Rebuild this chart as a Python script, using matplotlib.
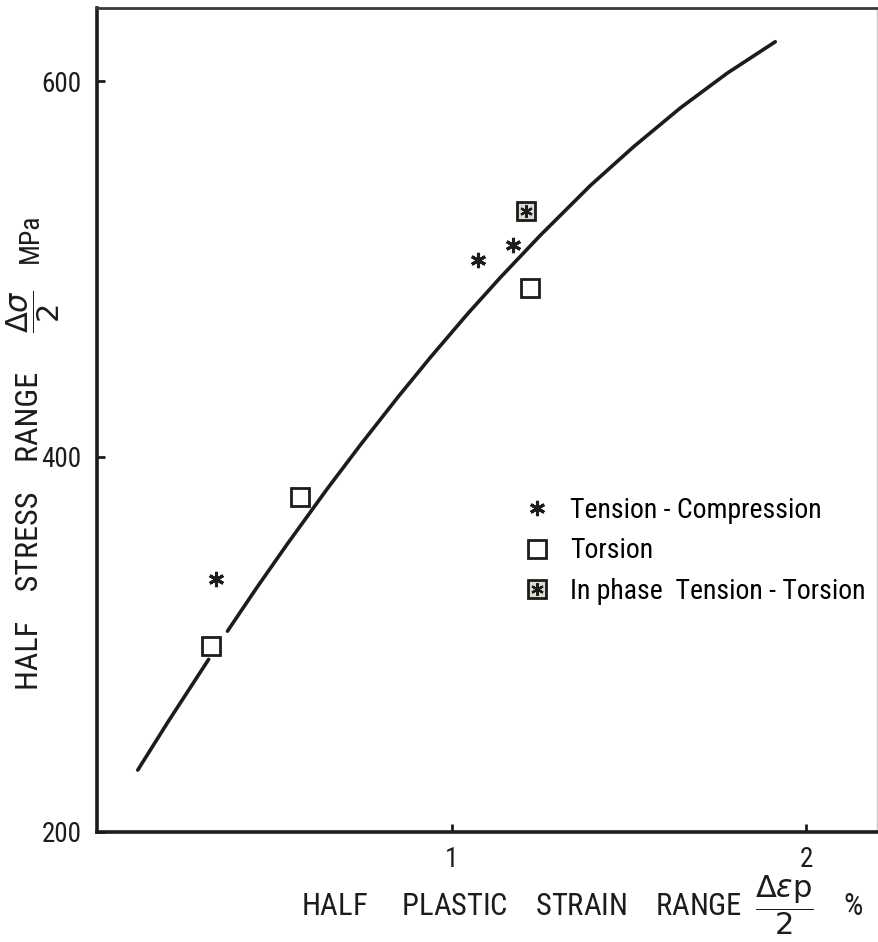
import matplotlib
matplotlib.use('Agg')
import matplotlib.pyplot as plt
from matplotlib import font_manager as fm

# fitted curve (two pieces, broken around the lowest square)
curva_x1 = [0.115, 0.200, 0.315]
curva_y1 = [233.0, 258.6, 292.0]
curva_x2 = [0.368, 0.450, 0.537, 0.650, 0.744, 0.850, 0.941, 1.045, 1.138,
            1.251, 1.392, 1.513, 1.645, 1.777, 1.913]
curva_y2 = [307.0, 330.0, 353.5, 383.0, 406.5, 432.0, 453.0, 476.0, 495.5,
            518.0, 544.5, 565.0, 585.7, 604.2, 621.0]

# ensayos
tc_x = [0.335, 1.076, 1.172]
tc_y = [335.0, 504.6, 512.6]
tor_x = [0.321, 0.572, 1.220]
tor_y = [299.0, 378.4, 489.7]
fase_x = [1.211]
fase_y = [530.7]

etiquetas = ['Tension - Compression', 'Torsion', 'In phase  Tension - Torsion']


def fuente_estrecha():
    pruebas = [('Liberation Sans Narrow', 'normal'), ('Roboto Condensed', 'normal'),
               ('DejaVu Sans', 'condensed'), ('Noto Sans', 'condensed'),
               ('Open Sans', 'condensed'), ('Roboto', 'condensed')]
    for fam, est in pruebas:
        try:
            ruta = fm.findfont(fm.FontProperties(family=fam, stretch=est),
                               fallback_to_default=False)
        except Exception:
            continue
        r = ruta.lower()
        if 'narrow' in r or 'condensed' in r:
            return fam, est
    return None


elegida = fuente_estrecha()
if elegida:
    plt.rcParams['font.family'] = [elegida[0], 'DejaVu Sans']
    plt.rcParams['font.stretch'] = elegida[1]
    t_tick, t_leg, t_lab = 19.5, 20, 22
else:
    plt.rcParams['font.family'] = ['Liberation Sans', 'DejaVu Sans']
    t_tick, t_leg, t_lab = 18, 16.5, 18

negro = '#1c1c1c'

fig = plt.figure(figsize=(8.79, 9.42), dpi=100)
ax = fig.add_axes([97 / 879, 1 - 832 / 942, (877 - 97) / 879, (832 - 8) / 942])

ax.plot(curva_x1, curva_y1, color=negro, lw=2.6, solid_capstyle='round')
ax.plot(curva_x2, curva_y2, color=negro, lw=2.6, solid_capstyle='round')

ast = (6, 2, 0)
h1, = ax.plot(tc_x, tc_y, ls='none', marker=ast, ms=11, mew=2.2, color=negro)
h2, = ax.plot(tor_x, tor_y, ls='none', marker='s', ms=13, mew=2.0,
              mfc='white', mec=negro)
h3a, = ax.plot(fase_x, fase_y, ls='none', marker='s', ms=13, mew=2.0,
               mfc='#d8ddd0', mec=negro)
h3b, = ax.plot(fase_x, fase_y, ls='none', marker=ast, ms=9, mew=1.6, color=negro)

ax.legend([h1, h2, (h3a, h3b)], etiquetas, loc='upper left',
          bbox_to_anchor=(523 / 879, 1 - 497 / 942), bbox_transform=fig.transFigure,
          frameon=False, fontsize=t_leg, handlelength=1.0, handletextpad=0.7,
          labelspacing=0.48, borderpad=0, borderaxespad=0)

ax.set_xlim(0, 2.2)
ax.set_ylim(200, 639)
ax.set_xticks([1, 2])
ax.set_yticks([200, 400, 600])
ax.tick_params(direction='in', length=6, width=2, colors=negro, labelsize=t_tick)
ax.tick_params(axis='y', pad=11)
ax.tick_params(axis='x', pad=10)

for lado in ['left', 'bottom']:
    ax.spines[lado].set_linewidth(2.6)
    ax.spines[lado].set_color(negro)
ax.spines['top'].set_linewidth(2.0)
ax.spines['top'].set_color('#3a3a3a')
ax.spines['right'].set_linewidth(1.0)
ax.spines['right'].set_color('#c8c8c8')

# eje x
fig.text(864 / 879, 1 - 905 / 942,
         r'HALF     PLASTIC    STRAIN    RANGE  $\dfrac{\Delta\varepsilon\mathrm{p}}{2}$    %',
         ha='right', va='center', fontsize=t_lab, color=negro)

# eje y, en tres trozos
fig.text(30 / 879, 1 - 690 / 942, 'HALF    STRESS    RANGE',
         rotation=90, ha='center', va='bottom', fontsize=t_lab + 1, color=negro)
fig.text(33 / 879, 1 - 312 / 942, r'$\dfrac{\Delta\sigma}{2}$',
         rotation=90, ha='center', va='center', fontsize=t_lab, color=negro)
fig.text(30 / 879, 1 - 238 / 942, 'MPa',
         rotation=90, ha='center', va='center', fontsize=t_lab - 2, color=negro)

fig.savefig('out.png', dpi=100)
